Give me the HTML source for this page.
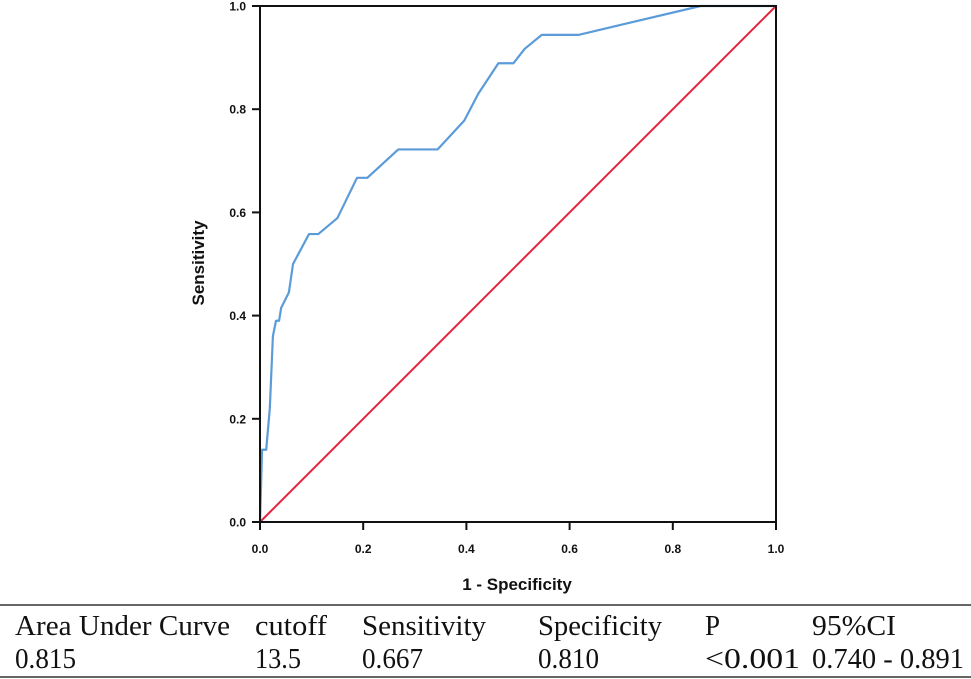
<!DOCTYPE html>
<html><head><meta charset="utf-8"><style>
body{margin:0;background:#fff;}
svg{display:block;}
</style></head><body>
<svg id="chart" width="971" height="679" viewBox="0 0 971 679" xmlns="http://www.w3.org/2000/svg">
<g id="plot"></g>
<g id="table" font-family="'Liberation Serif', serif" font-size="28" fill="#111">
<line x1="0" y1="605" x2="971" y2="605" stroke="#333" stroke-width="1.5"/>
<line x1="0" y1="677" x2="971" y2="677" stroke="#333" stroke-width="1.5"/>
<text x="15" y="635" textLength="215" lengthAdjust="spacingAndGlyphs">Area Under Curve</text>
<text x="255" y="635" textLength="72" lengthAdjust="spacingAndGlyphs">cutoff</text>
<text x="362" y="635" textLength="124" lengthAdjust="spacingAndGlyphs">Sensitivity</text>
<text x="538" y="635" textLength="124" lengthAdjust="spacingAndGlyphs">Specificity</text>
<text x="705" y="635" textLength="15" lengthAdjust="spacingAndGlyphs">P</text>
<text x="812" y="635" textLength="84" lengthAdjust="spacingAndGlyphs">95%CI</text>
<text x="15" y="668" textLength="61" lengthAdjust="spacingAndGlyphs">0.815</text>
<text x="255" y="668" textLength="46" lengthAdjust="spacingAndGlyphs">13.5</text>
<text x="362" y="668" textLength="61" lengthAdjust="spacingAndGlyphs">0.667</text>
<text x="538" y="668" textLength="61" lengthAdjust="spacingAndGlyphs">0.810</text>
<text x="705" y="668" textLength="95" lengthAdjust="spacingAndGlyphs">&lt;0.001</text>
<text x="812" y="668" textLength="152" lengthAdjust="spacingAndGlyphs">0.740 - 0.891</text>
</g>
</svg>
<script>
const fprValues = [0,0.004,0.012,0.019,0.025,0.031,0.037,0.041,0.056,0.064,0.095,0.113,0.150,0.188,0.208,0.268,0.344,0.396,0.423,0.462,0.491,0.513,0.546,0.617,0.854,1.0];
const tprValues = [0,0.14,0.14,0.22,0.36,0.39,0.39,0.415,0.445,0.50,0.558,0.558,0.589,0.667,0.667,0.722,0.722,0.778,0.830,0.889,0.889,0.917,0.944,0.944,1.0,1.0];
const tickValues = [0,0.2,0.4,0.6,0.8,1.0];
const tickLabels = ["0.0","0.2","0.4","0.6","0.8","1.0"];
const X0=260,X1=776,Y0=522,Y1=6;
const sx=v=>X0+(X1-X0)*v, sy=v=>Y0-(Y0-Y1)*v;
const NS="http://www.w3.org/2000/svg";
const plot=document.getElementById('plot');
function mk(tag,attrs){const e=document.createElementNS(NS,tag);for(const k in attrs)e.setAttribute(k,attrs[k]);plot.appendChild(e);return e;}
let d=mk('line',{x1:sx(0),y1:sy(0),x2:sx(1),y2:sy(1),stroke:'#e8203a','stroke-width':2});


let p=mk('polyline',{points:fprValues.map((v,i)=>sx(v)+','+sy(tprValues[i])).join(' '),fill:'none',stroke:'#5b9bd9','stroke-width':2.2,'stroke-linejoin':'round'});


let f=mk('rect',{x:X0,y:Y1,width:X1-X0,height:Y0-Y1,fill:'none',stroke:'#111','stroke-width':2});


tickValues.forEach((v,i)=>{
 let t=mk('line',{x1:X0-8,y1:sy(v),x2:X0,y2:sy(v),stroke:'#111','stroke-width':2});
 
 
 let l=mk('text',{x:X0-14,y:sy(v)+4.5,'text-anchor':'end','font-family':"'Liberation Sans',sans-serif",'font-weight':'bold','font-size':12,fill:'#111'});
 l.textContent=tickLabels[i];
 
 
 let t2=mk('line',{x1:sx(v),y1:Y0,x2:sx(v),y2:Y0+8,stroke:'#111','stroke-width':2});
 
 
 let l2=mk('text',{x:sx(v),y:553,'text-anchor':'middle','font-family':"'Liberation Sans',sans-serif",'font-weight':'bold','font-size':12,fill:'#111'});
 l2.textContent=tickLabels[i];
 
 
});
let xt=mk('text',{x:517,y:590,'text-anchor':'middle','font-family':"'Liberation Sans',sans-serif",'font-weight':'bold','font-size':17,fill:'#111'});
xt.textContent='1 - Specificity';


let yt=mk('text',{x:0,y:0,'text-anchor':'middle','font-family':"'Liberation Sans',sans-serif",'font-weight':'bold','font-size':17,fill:'#111',transform:'translate(204,263) rotate(-90)'});
yt.textContent='Sensitivity';


</script>
</body></html>
